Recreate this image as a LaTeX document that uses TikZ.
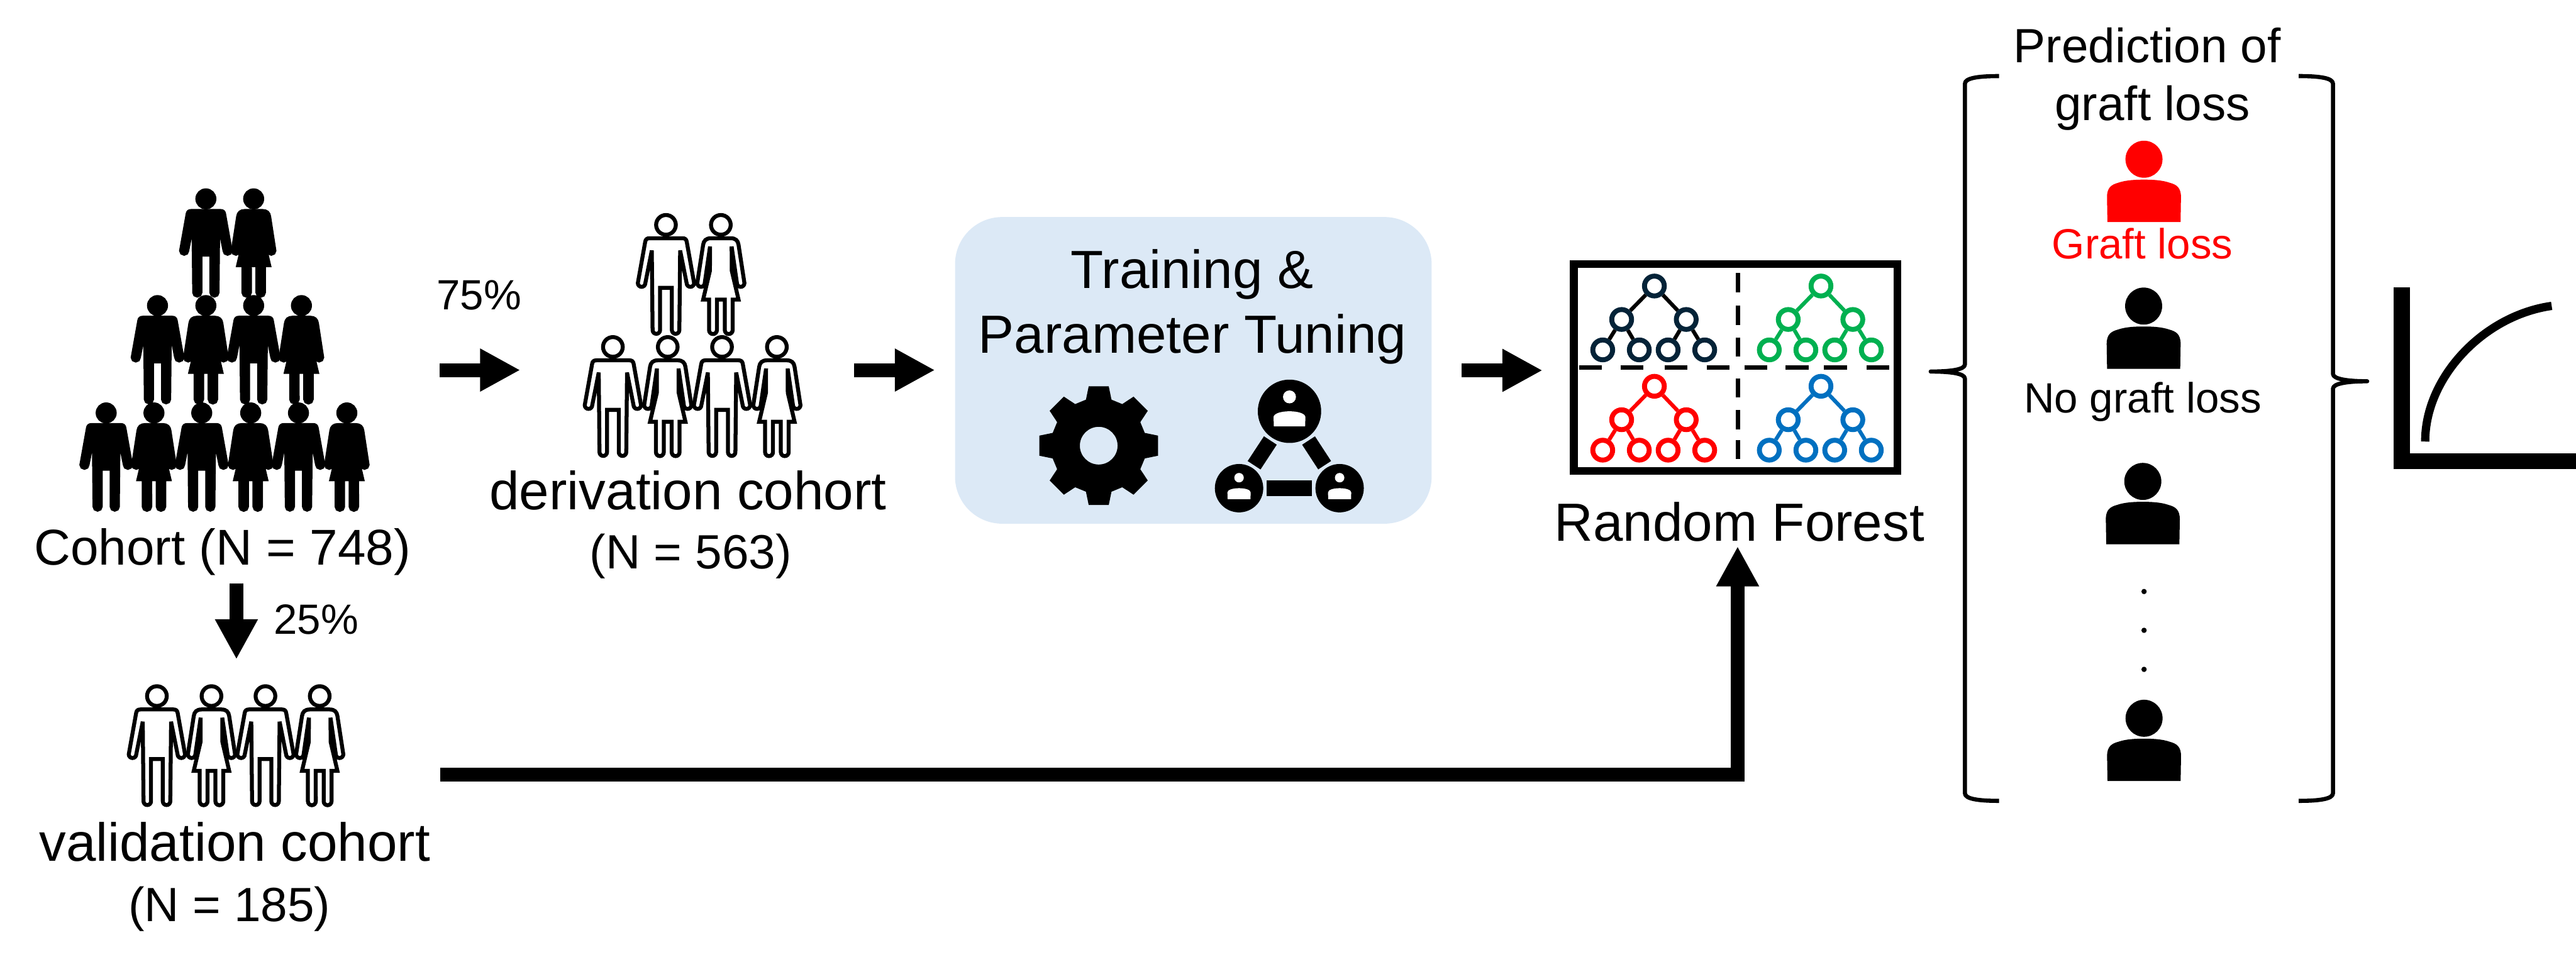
\documentclass[tikz,border=0pt]{standalone}
\usepackage{fontspec}
\setmainfont{Liberation Sans}
\usetikzlibrary{arrows.meta,positioning}
\definecolor{boxblue}{HTML}{DCE9F6}
\definecolor{treenavy}{HTML}{042338}
\definecolor{treegreen}{HTML}{00B050}
\definecolor{treered}{HTML}{FF0000}
\definecolor{treeblue}{HTML}{0070C0}
\begin{document}
\begin{tikzpicture}[x=1cm,y=1cm]
\tikzset{
  bigtext/.style={anchor=base,inner sep=0pt,font=\fontsize{25.9}{30}\selectfont},
  midtext/.style={anchor=base,inner sep=0pt,font=\fontsize{23.2}{28}\selectfont},
  cohorttext/.style={anchor=base,inner sep=0pt,font=\fontsize{24.3}{29}\selectfont},
  smalltext/.style={anchor=base,inner sep=0pt,font=\fontsize{20.4}{24}\selectfont},
  solidfig/.style={draw=black,fill=black,line width=1.68pt,miter limit=2},
  hollowfig/.style={draw=black,line width=1.9pt,miter limit=2},
  blockarrow/.style={draw=black,line width=.235cm,-{Triangle[length=6.8mm,width=6.8mm]}},
  trainbox/.style={rectangle,fill=boxblue,rounded corners=.8cm,minimum width=8.08cm,minimum height=5.2cm},
  netnode/.style={circle,fill=black,inner sep=0pt,outer sep=.055cm},
  netlink/.style={draw=black,line width=.26cm},
  forestframe/.style={rectangle,draw=black,line width=.13cm,minimum width=5.49cm,minimum height=3.503cm},
  dashrule/.style={draw=black,line width=.073cm},
  treenode/.style={circle,line width=.084cm,minimum size=.336cm,inner sep=0pt},
  treeedge/.style={line width=.065cm},
  bracket/.style={draw=black,line width=.07cm,line join=round},
  axisline/.style={draw=black,line width=.275cm},
  curveline/.style={draw=black,line width=.14cm},
  dotnode/.style={circle,fill=black,minimum size=.09cm,inner sep=0pt},
  pics/man/.style={code={
    \draw[#1] (0,-.193) circle[radius=.167];
    \draw[#1] (0,-.42) -- (-.28,-.42) .. controls (-.325,-.42) and (-.345,-.44) .. (-.352,-.48) -- (-.477,-1.18)
      arc[start angle=180,end angle=360,radius=.0635] -- (-.24,-.627) -- (-.227,-1.977)
      arc[start angle=180,end angle=360,radius=.0635] -- (-.1,-1.26) -- (.1,-1.26) -- (.1,-1.977)
      arc[start angle=180,end angle=360,radius=.0635] -- (.24,-.627) -- (.35,-1.18)
      arc[start angle=180,end angle=360,radius=.0635] -- (.352,-.48) .. controls (.345,-.44) and (.325,-.42) .. (.28,-.42) -- cycle;
  }},
  pics/woman/.style={code={
    \draw[#1] (0,-.193) circle[radius=.167];
    \draw[#1] (0,-.42) -- (-.17,-.42) .. controls (-.25,-.42) and (-.29,-.46) .. (-.30,-.53) -- (-.40,-1.18)
      arc[start angle=180,end angle=360,radius=.0635] -- (-.183,-.56) -- (-.185,-.97) -- (-.30,-1.46) -- (-.2,-1.46) -- (-.2,-1.977)
      arc[start angle=180,end angle=360,radius=.0667] -- (-.067,-1.46) -- (.067,-1.46) -- (.067,-1.977)
      arc[start angle=180,end angle=360,radius=.0667] -- (.2,-1.46) -- (.30,-1.46) -- (.185,-.97) -- (.183,-.56) -- (.273,-1.18)
      arc[start angle=180,end angle=360,radius=.0635] -- (.30,-.53) .. controls (.29,-.46) and (.25,-.42) .. (.17,-.42) -- cycle;
  }},
  pics/personicon/.style={code={
    \fill[#1] (0,0) circle[radius=.314];
    \fill[#1] (-.62,-1.065) -- (-.627,-.64) .. controls (-.627,-.48) and (-.55,-.43) .. (-.44,-.40) .. controls (-.30,-.35) and (-.12,-.346) .. (0,-.346)
      .. controls (.12,-.346) and (.30,-.35) .. (.44,-.40) .. controls (.55,-.43) and (.627,-.48) .. (.627,-.64) -- (.62,-1.065) -- cycle;
  }},
  pics/netperson/.style={code={
    \fill[white] (0,.244) circle[radius=.11];
    \fill[white] (-.265,-.256) -- (-.27,-.10) .. controls (-.27,-.04) and (-.15,0) .. (0,0) .. controls (.15,0) and (.27,-.04) .. (.27,-.10) -- (.265,-.256) -- cycle;
  }},
  pics/gearicon/.style={code={
    \fill[black,even odd rule] (74.5:.81) -- (80.4:1.02) -- (99.6:1.02) -- (105.5:.81)
      -- (119.5:.81) -- (125.4:1.02) -- (144.6:1.02) -- (150.5:.81)
      -- (164.5:.81) -- (170.4:1.02) -- (189.6:1.02) -- (195.5:.81)
      -- (209.5:.81) -- (215.4:1.02) -- (234.6:1.02) -- (240.5:.81)
      -- (254.5:.81) -- (260.4:1.02) -- (279.6:1.02) -- (285.5:.81)
      -- (299.5:.81) -- (305.4:1.02) -- (324.6:1.02) -- (330.5:.81)
      -- (344.5:.81) -- (350.4:1.02) -- (369.6:1.02) -- (375.5:.81)
      -- (389.5:.81) -- (395.4:1.02) -- (414.6:1.02) -- (420.5:.81) -- cycle
      (0,0) circle[radius=.32];
  }},
  pics/foresttree/.style 2 args={code={
    \node[treenode,draw=#1] (-root) at (0,0) {};
    \node[treenode,draw=#1] (-left) at (-.555,-.567) {};
    \node[treenode,draw=#1] (-right) at (.54,-.567) {};
    \node[treenode,draw=#1] (-leafa) at (-.876,-1.083) {};
    \node[treenode,draw=#1] (-leafb) at (-.256,-1.083) {};
    \node[treenode,draw=#1] (-leafc) at (.233,-1.083) {};
    \node[treenode,draw=#1] (-leafd) at (.853,-1.083) {};
    \draw[treeedge,draw=#2] (-root) -- (-left);
    \draw[treeedge,draw=#2] (-root) -- (-right);
    \draw[treeedge,draw=#2] (-left) -- (-leafa);
    \draw[treeedge,draw=#2] (-left) -- (-leafb);
    \draw[treeedge,draw=#2] (-right) -- (-leafc);
    \draw[treeedge,draw=#2] (-right) -- (-leafd);
  }}
}
\useasboundingbox (0,0) rectangle (43.67,-16.31);
% whole cohort
\pic[scale=.89] at (3.49,-3.20) {man=solidfig};
\pic[scale=.89] at (4.30,-3.20) {woman=solidfig};
\pic[scale=.89] at (2.67,-5.01) {man=solidfig};
\pic[scale=.89] at (3.49,-5.01) {woman=solidfig};
\pic[scale=.89] at (4.30,-5.01) {man=solidfig};
\pic[scale=.89] at (5.11,-5.01) {woman=solidfig};
\pic[scale=.89] at (1.80,-6.83) {man=solidfig};
\pic[scale=.89] at (2.61,-6.83) {woman=solidfig};
\pic[scale=.89] at (3.42,-6.83) {man=solidfig};
\pic[scale=.89] at (4.25,-6.83) {woman=solidfig};
\pic[scale=.89] at (5.06,-6.83) {man=solidfig};
\pic[scale=.89] at (5.88,-6.83) {woman=solidfig};
\node[cohorttext] (n_cohort) at (3.77,-9.58) {Cohort (N = 748)};
% derivation
\pic at (11.29,-3.62) {man=hollowfig};
\pic at (12.22,-3.62) {woman=hollowfig};
\pic at (10.39,-5.69) {man=hollowfig};
\pic at (11.32,-5.69) {woman=hollowfig};
\pic at (12.24,-5.69) {man=hollowfig};
\pic at (13.17,-5.69) {woman=hollowfig};
\node[bigtext] (n_derivation) at (11.665,-8.64) {derivation cohort};
\node[midtext] (n_derivationN) at (11.71,-9.645) {(N = 563)};
% validation
\pic at (2.66,-11.61) {man=hollowfig};
\pic at (3.585,-11.61) {woman=hollowfig};
\pic at (4.50,-11.61) {man=hollowfig};
\pic at (5.42,-11.61) {woman=hollowfig};
\node[bigtext] (n_validation) at (3.98,-14.605) {validation cohort};
\node[midtext] (n_validationN) at (3.89,-15.62) {(N = 185)};
% training box
\node[trainbox] (n_train) at (20.23,-6.28) {};
\node[bigtext] (n_trainA) at (20.21,-4.89) {Training \&};
\node[bigtext] (n_trainB) at (20.215,-5.985) {Parameter Tuning};
\pic at (18.626,-7.557) {gearicon};
\node[netnode,minimum size=1.074cm] (n_nettop) at (21.86,-6.974) {};
\node[netnode,minimum size=.82cm] (n_netleft) at (21.005,-8.278) {};
\node[netnode,minimum size=.82cm] (n_netright) at (22.71,-8.278) {};
\draw[netlink] (n_nettop) -- (n_netleft);
\draw[netlink] (n_nettop) -- (n_netright);
\draw[netlink] (n_netleft) -- (n_netright);
\pic at (n_nettop) {netperson};
\pic[scale=.73] at (n_netleft) {netperson};
\pic[scale=.73] at (n_netright) {netperson};
% forest
\node[forestframe] (n_forest) at (29.425,-6.23) {};
\draw[dashrule] (29.46,-4.63) -- (29.46,-4.96) (29.46,-5.18) -- (29.46,-5.51) (29.46,-5.72) -- (29.46,-6.05)
  (29.46,-6.42) -- (29.46,-6.74) (29.46,-6.95) -- (29.46,-7.28) (29.46,-7.46) -- (29.46,-7.78);
\draw[dashrule] (26.77,-6.233) -- (27.16,-6.233) (27.47,-6.233) -- (27.86,-6.233) (28.22,-6.233) -- (28.61,-6.233) (28.93,-6.233) -- (29.32,-6.233)
  (29.57,-6.233) -- (29.96,-6.233) (30.27,-6.233) -- (30.66,-6.233) (30.92,-6.233) -- (31.31,-6.233) (31.64,-6.233) -- (32.03,-6.233);
\pic (n_treeA) at (28.046,-4.85) {foresttree={treenavy}{black}};
\pic (n_treeB) at (30.87,-4.85) {foresttree={treegreen}{treegreen}};
\pic (n_treeC) at (28.046,-6.55) {foresttree={treered}{treered}};
\pic (n_treeD) at (30.87,-6.55) {foresttree={treeblue}{treeblue}};
\node[bigtext] (n_forestlabel) at (29.487,-9.17) {Random Forest};
% arrows
\coordinate (n_splitA) at (7.455,-6.275);
\coordinate (n_splitB) at (8.82,-6.275);
\coordinate (n_trainIn) at (14.48,-6.275);
\coordinate (n_trainTip) at (15.85,-6.275);
\coordinate (n_forestIn) at (24.78,-6.28);
\coordinate (n_forestTip) at (26.15,-6.28);
\coordinate (n_downA) at (4.008,-9.89);
\coordinate (n_downB) at (4.008,-11.18);
\coordinate (n_testA) at (7.46,-13.13);
\coordinate (n_testB) at (29.457,-9.264);
\draw[blockarrow] (n_splitA) -- (n_splitB);
\draw[blockarrow] (n_trainIn) -- (n_trainTip);
\draw[blockarrow] (n_forestIn) -- (n_forestTip);
\draw[blockarrow] (n_downA) -- (n_downB);
\draw[blockarrow] (n_testA) -| (n_testB);
\node[smalltext] (n_pctA) at (8.12,-5.246) {75\%};
\node[smalltext] (n_pctB) at (5.36,-10.755) {25\%};
% prediction
\node[midtext] (n_predA) at (36.40,-1.056) {Prediction of};
\node[midtext] (n_predB) at (36.49,-2.04) {graft loss};
\pic at (36.346,-2.70) {personicon=treered};
\node[smalltext,text=treered] (n_lossA) at (36.32,-4.388) {Graft loss};
\pic at (36.34,-5.19) {personicon=black};
\node[smalltext] (n_lossB) at (36.325,-7.00) {No graft loss};
\pic at (36.326,-8.163) {personicon=black};
\node[dotnode] (n_dotA) at (36.347,-10.03) {};
\node[dotnode] (n_dotB) at (36.347,-10.688) {};
\node[dotnode] (n_dotC) at (36.347,-11.35) {};
\pic at (36.347,-12.179) {personicon=black};
\draw[bracket] (33.89,-1.29) .. controls (33.55,-1.29) and (33.31,-1.32) .. (33.31,-1.42) -- (33.31,-6.18)
  .. controls (33.31,-6.27) and (33.05,-6.30) .. (32.73,-6.30) .. controls (33.05,-6.30) and (33.31,-6.33) .. (33.31,-6.42)
  -- (33.31,-13.45) .. controls (33.31,-13.55) and (33.55,-13.58) .. (33.89,-13.58);
\draw[bracket] (38.97,-1.29) .. controls (39.31,-1.29) and (39.55,-1.32) .. (39.55,-1.42) -- (39.55,-6.34)
  .. controls (39.55,-6.43) and (39.81,-6.465) .. (40.13,-6.465) .. controls (39.81,-6.465) and (39.55,-6.50) .. (39.55,-6.59)
  -- (39.55,-13.45) .. controls (39.55,-13.55) and (39.31,-13.58) .. (38.97,-13.58);
% plot
\coordinate (n_axtop) at (40.72,-4.877);
\coordinate (n_axcorner) at (40.72,-7.82);
\coordinate (n_axend) at (43.67,-7.82);
\coordinate (n_curveA) at (41.113,-7.487);
\coordinate (n_curveB) at (43.257,-5.187);
\draw[axisline] (n_axtop) -- (n_axcorner) -- (n_axend);
\draw[curveline] (n_curveA) .. controls (41.11,-6.40) and (42.10,-5.35) .. (n_curveB);
\end{tikzpicture}
\end{document}
